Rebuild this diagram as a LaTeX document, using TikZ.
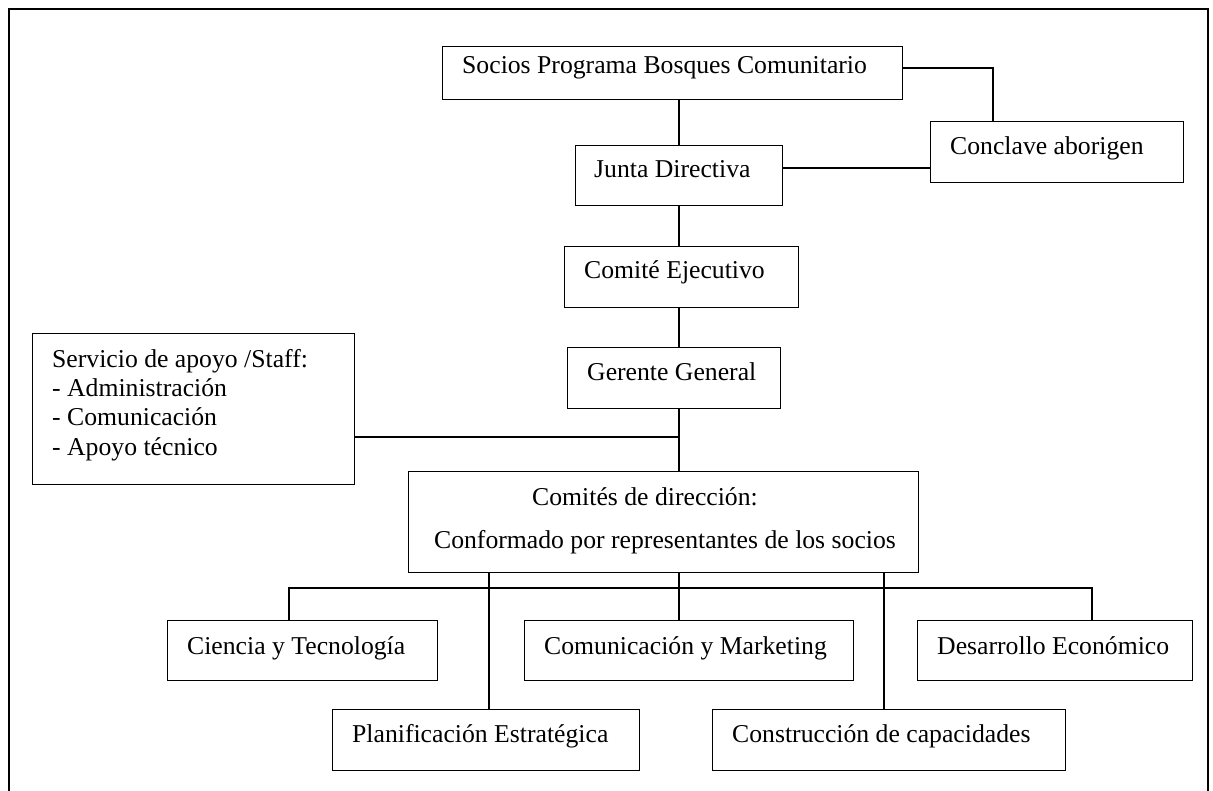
\documentclass[tikz,border=0pt]{standalone}
\usepackage{fontspec}
\setmainfont{Liberation Serif}
\begin{document}
\begin{tikzpicture}[x=1pt,y=-1pt,
  orgbox/.style={draw, line width=1.3pt, inner sep=0pt, anchor=north west},
  lbl/.style={inner sep=0pt, font=\fontsize{25.7}{29.5}\selectfont},
  link/.style={line width=1.3pt}]
\useasboundingbox (0,0) rectangle (1213,791);
\fill[white] (0,0) rectangle (1213,791);
% outer frame
\draw[line width=2.4pt] (9,795) -- (9,9) -- (1208,9) -- (1208,795);

% boxes
\node[orgbox, minimum width=460, minimum height=53] (soc) at (442,46) {};
\node[orgbox, minimum width=207, minimum height=60] (jun) at (575,145) {};
\node[orgbox, minimum width=253, minimum height=61] (con) at (930,121) {};
\node[orgbox, minimum width=234, minimum height=61] (com) at (564,246) {};
\node[orgbox, minimum width=213, minimum height=61] (ger) at (567,347) {};
\node[orgbox, minimum width=322, minimum height=151] (staff) at (32,333) {};
\node[orgbox, minimum width=510, minimum height=101] (cdir) at (408,471) {};
\node[orgbox, minimum width=270, minimum height=60] (cien) at (167,620) {};
\node[orgbox, minimum width=329, minimum height=60] (cmk) at (524,620) {};
\node[orgbox, minimum width=275, minimum height=60] (des) at (917,620) {};
\node[orgbox, minimum width=307, minimum height=61] (pla) at (332,709) {};
\node[orgbox, minimum width=353, minimum height=61] (cons) at (712,709) {};

% labels
\node[lbl, anchor=base west] (socT) at ([shift={(20,28)}]soc.north west) {Socios Programa Bosques Comunitario};
\node[lbl, anchor=base west] (junT) at ([shift={(19,33)}]jun.north west) {Junta Directiva};
\node[lbl, anchor=base west] (conT) at ([shift={(20,34)}]con.north west) {Conclave aborigen};
\node[lbl, anchor=base west] (comT) at ([shift={(20,33)}]com.north west) {Comité Ejecutivo};
\node[lbl, anchor=base west] (gerT) at ([shift={(20,34)}]ger.north west) {Gerente General};
\node[lbl, anchor=base west] (stA) at ([shift={(20,35)}]staff.north west) {Servicio de apoyo /Staff:};
\node[lbl, anchor=base west] (stB) at ([shift={(20,64)}]staff.north west) {- Administración};
\node[lbl, anchor=base west] (stC) at ([shift={(20,93)}]staff.north west) {- Comunicación};
\node[lbl, anchor=base west] (stD) at ([shift={(20,122)}]staff.north west) {- Apoyo técnico};
\node[lbl, anchor=base] (cdA) at ([shift={(237,34)}]cdir.north west) {Comités de dirección:};
\node[lbl, anchor=base] (cdB) at ([shift={(257,77)}]cdir.north west) {Conformado por representantes de los socios};
\node[lbl, anchor=base west] (cienT) at ([shift={(20,34)}]cien.north west) {Ciencia y Tecnología};
\node[lbl, anchor=base west] (cmkT) at ([shift={(20,34)}]cmk.north west) {Comunicación y Marketing};
\node[lbl, anchor=base west] (desT) at ([shift={(20,34)}]des.north west) {Desarrollo Económico};
\node[lbl, anchor=base west] (plaT) at ([shift={(20,33)}]pla.north west) {Planificación Estratégica};
\node[lbl, anchor=base west] (consT) at ([shift={(20,33)}]cons.north west) {Construcción de capacidades};

% junction points
\coordinate (sp) at (679,0);
\coordinate (stj) at (679,437);
\coordinate (scj) at (993,68);
\coordinate (jcj) at (0,168);
\coordinate (bl) at (289,588);
\coordinate (br) at (1092,588);
\coordinate (pj) at (489,0);
\coordinate (cj) at (884,0);

% connectors
\draw[link] (soc.south -| sp) -- (jun.north -| sp);
\draw[link] (jun.south -| sp) -- (com.north -| sp);
\draw[link] (com.south -| sp) -- (ger.north -| sp);
\draw[link] (ger.south -| sp) -- (cdir.north -| sp);
\draw[link] (stj -| staff.east) -- (stj);
\draw[link] (scj -| soc.east) -- (scj) -- (scj |- con.north);
\draw[link] (jcj -| jun.east) -- (jcj -| con.west);
\draw[link] (cdir.south -| sp) -- (cmk.north -| sp);
\draw[link] (bl |- cien.north) -- (bl) -- (br) -- (br |- des.north);
\draw[link] (cdir.south -| pj) -- (pla.north -| pj);
\draw[link] (cdir.south -| cj) -- (cons.north -| cj);
\end{tikzpicture}
\end{document}
